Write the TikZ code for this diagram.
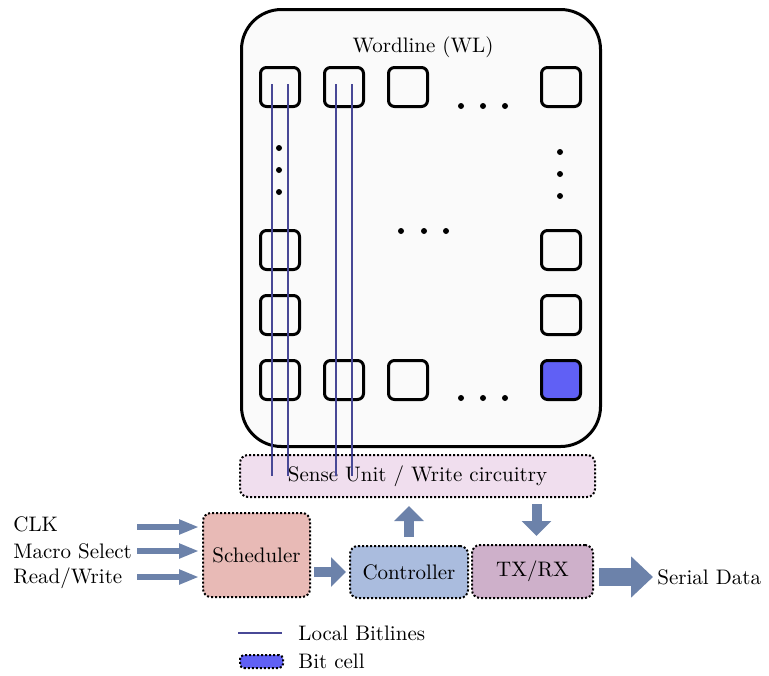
\documentclass[tikz,border=0pt]{standalone}
\usepackage{tikz}
\usetikzlibrary{arrows.meta,positioning,calc}
\definecolor{arrowblue}{RGB}{108,130,170}
\definecolor{bitline}{RGB}{72,72,150}
\definecolor{cellblue}{RGB}{96,96,245}
\definecolor{sensefill}{RGB}{240,222,238}
\definecolor{schedfill}{RGB}{232,186,182}
\definecolor{ctrlfill}{RGB}{170,188,222}
\definecolor{txfill}{RGB}{206,176,202}

\begin{document}
\begin{tikzpicture}[
    x=0.5pt, y=-0.5pt,
    every node/.style={font=\fontsize{10.5}{12}\selectfont},
    cell/.style={draw, line width=1.5pt, rounded corners=3pt, minimum size=19.5pt, inner sep=0pt},
    block/.style={draw, line width=1pt, dash pattern=on 1pt off 1pt, rounded corners=4pt, align=center, inner sep=0pt},
    label/.style={anchor=west, inner sep=0pt},
    bitwire/.style={draw=bitline, line width=0.75pt},
    inarrow/.style={draw=arrowblue, line width=3pt, -{Triangle[width=7pt,length=10pt]}},
    midarrow/.style={draw=arrowblue, line width=5pt, -{Triangle[width=14.5pt,length=7.5pt]}},
    bigarrow/.style={draw=arrowblue, line width=9pt, -{Triangle[width=20pt,length=11pt]}},
]
\useasboundingbox (0,0) rectangle (769,675);

% memory array
\node[draw, line width=1.5pt, rounded corners=20pt, fill=gray!4, minimum width=179.5pt, minimum height=218.5pt] (arr) at (421,228) {};
\node (wl) at (423,47) {Wordline (WL)};

\node[cell] (c11) at (280,87) {};
\node[cell] (c12) at (344,87) {};
\node[cell] (c13) at (408,87) {};
\node[cell] (c14) at (561,87) {};
\node[cell] (c21) at (280,250) {};
\node[cell] (c24) at (561,250) {};
\node[cell] (c31) at (280,315) {};
\node[cell] (c34) at (561,315) {};
\node[cell] (c41) at (280,380) {};
\node[cell] (c42) at (344,380) {};
\node[cell] (c43) at (408,380) {};
\node[cell, fill=cellblue] (c44) at (561,380) {};

% dots
\fill (461,106) circle (1.5pt) (483,106) circle (1.5pt) (505,106) circle (1.5pt);
\fill (461,398) circle (1.5pt) (483,398) circle (1.5pt) (505,398) circle (1.5pt);
\fill (401,231) circle (1.5pt) (424,231) circle (1.5pt) (446,231) circle (1.5pt);
\fill (279,148) circle (1.5pt) (279,170) circle (1.5pt) (279,192) circle (1.5pt);
\fill (560,152) circle (1.5pt) (560,174) circle (1.5pt) (560,196) circle (1.5pt);

% periphery
\node[block, fill=sensefill, minimum width=177.5pt, minimum height=21pt] (sense) at (417.5,476) {Sense Unit / Write circuitry};
\node[block, fill=schedfill, minimum width=53.5pt, minimum height=42pt] (sched) at (256.5,555) {Scheduler};
\node[block, fill=ctrlfill, minimum width=59pt, minimum height=26pt] (ctrl) at (409,572) {Controller};
\node[block, fill=txfill, minimum width=60.5pt, minimum height=26.5pt] (tx) at (532.5,571.5) {TX/RX};

% bitlines
\draw[bitwire] ([xshift=-4pt,yshift=1.5pt]c11.center) -- ([xshift=-4pt]c11.center |- sense.center);
\draw[bitwire] ([xshift=4pt,yshift=1.5pt]c11.center) -- ([xshift=4pt]c11.center |- sense.center);
\draw[bitwire] ([xshift=-4pt,yshift=1.5pt]c12.center) -- ([xshift=-4pt]c12.center |- sense.center);
\draw[bitwire] ([xshift=4pt,yshift=1.5pt]c12.center) -- ([xshift=4pt]c12.center |- sense.center);

% inputs and outputs
\node[label] (clk) at (13,524) {CLK};
\node[label] (msel) at (13,551) {Macro Select};
\node[label] (rw) at (13,578) {Read/Write};
\node[label] (serial) at (657,577) {Serial Data};
\coordinate (in1) at (137,527);
\coordinate (in2) at (137,551);
\coordinate (in3) at (137,577);

\draw[inarrow, shorten >=1.5pt] (in1) -- (in1 -| sched.west);
\draw[inarrow, shorten >=1.5pt] (in2) -- (in2 -| sched.west);
\draw[inarrow, shorten >=1.5pt] (in3) -- (in3 -| sched.west);
\draw[midarrow, shorten <=1.5pt, shorten >=1.5pt] (sched.east |- ctrl.west) -- (ctrl.west);
\draw[midarrow, shorten <=4pt, shorten >=4pt] (ctrl.north) -- (ctrl.north |- sense.south);
\draw[midarrow, shorten <=3pt, shorten >=4pt] ([xshift=2pt]tx.north |- sense.south) -- ([xshift=2pt]tx.north);
\draw[bigarrow, shorten <=2.5pt, shorten >=2pt] (tx.east |- serial.west) -- (serial.west);

% legend
\coordinate (lg1) at (238,633);
\coordinate (lg2) at (282,633);
\draw[bitwire] (lg1) -- (lg2);
\node[label] (lglines) at (298,633) {Local Bitlines};
\node[block, fill=cellblue, minimum width=21.5pt, minimum height=6.5pt, rounded corners=2pt] (lgcell) at (261.5,661.5) {};
\node[label] (lgtext) at (298,661) {Bit cell};
\end{tikzpicture}
\end{document}
